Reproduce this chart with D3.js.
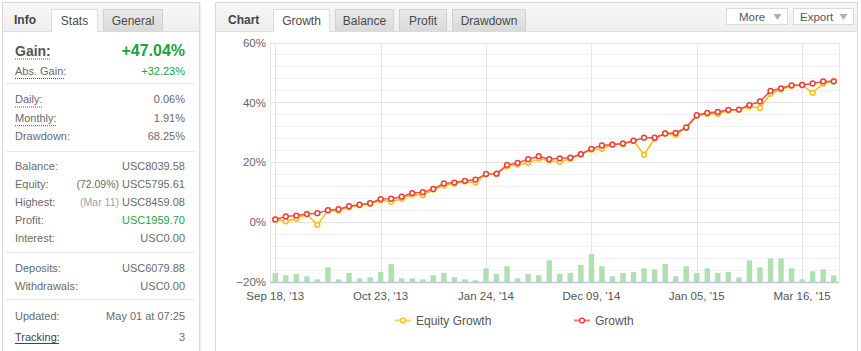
<!DOCTYPE html>
<html>
<head>
<meta charset="utf-8">
<script src="https://cdn.jsdelivr.net/npm/d3@7"></script>
<style>
  body { margin: 0; background: #fff; }
  svg { display: block; font-family: 'Liberation Sans', Arial, sans-serif; }
</style>
</head>
<body>
<svg id="area" width="861" height="351"></svg>
<script>
// values (percent)
const growth = [0.9, 1.9, 2.2, 2.7, 3.0, 4.0, 4.3, 5.3, 5.8, 6.3, 7.7, 7.8, 8.5, 9.7, 10.0, 11.1, 12.9, 13.2,
  13.8, 14.2, 16.1, 16.2, 19.1, 19.8, 21.0, 22.0, 21.0, 21.3, 21.5, 22.7, 24.5, 25.6, 25.9, 26.3, 27.2, 28.2,
  28.2, 29.6, 29.8, 31.6, 35.7, 36.5, 36.8, 37.5, 37.6, 39.1, 40.3, 43.8, 44.7, 45.7, 45.8, 46.3, 47.0, 47.04];
const equityGrowth = [0.9, 0.3, 1.1, 2.7, -0.9, 3.9, 3.8, 5.0, 5.6, 6.1, 7.3, 6.8, 7.8, 9.2, 9.0, 10.9, 12.2, 12.9,
  13.6, 13.2, 16.0, 16.1, 18.6, 19.2, 19.8, 21.2, 20.6, 20.1, 21.2, 22.6, 24.2, 24.5, 25.9, 26.0, 27.1, 22.5,
  27.9, 29.6, 29.2, 31.5, 35.5, 36.2, 36.1, 37.3, 37.5, 38.6, 38.1, 42.9, 44.3, 45.5, 45.8, 43.2, 46.3, 47.04];
// secondary bar series (unlabelled units)
const volume = [9, 6.7, 8, 5.7, 2.7, 14.7, 2.7, 9, 3.7, 4.7, 10, 18, 3.7, 3.7, 2.7, 6.7, 9, 4.7, 2.7, 1.7,
  13.7, 8, 15.7, 3.7, 8, 6.7, 21.7, 8, 9, 17, 28, 15.7, 5.7, 9, 10, 13.7, 12.7, 18, 5.7, 15.7, 9, 13.7,
  9, 10, 4.7, 21.7, 14.7, 23.7, 23.7, 13.7, 2.7, 10.7, 12.7, 6.7];
const tickLabels = ["Sep 18, '13", "Oct 23, '13", "Jan 24, '14", "Dec 09, '14", "Jan 05, '15", "Mar 16, '15"];
const tickEvery = 10;
const yTicks = [-20, 0, 20, 40, 60];

const statRows = [
  { label: 'Daily:', value: '0.06%', dotted: true },
  { label: 'Monthly:', value: '1.91%', dotted: true },
  { label: 'Drawdown:', value: '68.25%' },
];
const accountRows = [
  { label: 'Balance:', value: 'USC8039.58' },
  { label: 'Equity:', value: 'USC5795.61', note: '(72.09%)' },
  { label: 'Highest:', value: 'USC8459.08', note: '(Mar 11)', noteColor: '#a0a0a0' },
  { label: 'Profit:', value: 'USC1959.70', green: true },
  { label: 'Interest:', value: 'USC0.00' },
];
const depositRows = [
  { label: 'Deposits:', value: 'USC6079.88' },
  { label: 'Withdrawals:', value: 'USC0.00' },
];

const svg = d3.select('#area');
const GREEN = '#1ea33c';
const TXT = '#6a6a6a';

const defs = svg.append('defs');
const grad = (id, a, b) => {
  const g = defs.append('linearGradient').attr('id', id).attr('x1', 0).attr('x2', 0).attr('y1', 0).attr('y2', 1);
  g.append('stop').attr('offset', 0).attr('stop-color', a);
  g.append('stop').attr('offset', 1).attr('stop-color', b);
};
grad('hdr', '#f7f7f7', '#efefef');
grad('tab', '#e9e9e9', '#d9d9d9');

// panels
function panel(x, w) {
  svg.append('rect').attr('x', x + 0.5).attr('y', 2.5).attr('width', w).attr('height', 360)
    .attr('fill', '#fff').attr('stroke', '#d9d9d9');
  svg.append('rect').attr('x', x + 1).attr('y', 3).attr('width', w - 1).attr('height', 28.5)
    .attr('fill', 'url(#hdr)');
  svg.append('line').attr('x1', x + 1).attr('x2', x + w).attr('y1', 31.5).attr('y2', 31.5)
    .attr('stroke', '#dcdcdc');
}
function tab(x, w, text, active) {
  const g = svg.append('g');
  g.append('path')
    .attr('d', `M${x + 0.5},${active ? 32 : 31.5}V9.5H${x + w + 0.5}V${active ? 32 : 31.5}`)
    .attr('fill', active ? '#fff' : 'url(#tab)').attr('stroke', active ? '#dcdcdc' : '#d0d0d0');
  if (active) g.append('rect').attr('x', x + 1).attr('y', 30).attr('width', w - 1).attr('height', 3).attr('fill', '#fff');
  g.append('text').attr('x', x + w / 2 + 0.5).attr('y', 25).attr('text-anchor', 'middle')
    .attr('font-size', 12).attr('fill', '#4a4a4a').text(text);
}

panel(2, 197);
svg.append('line').attr('x1', 200.5).attr('x2', 200.5).attr('y1', 3).attr('y2', 351).attr('stroke', '#eeeeee');
svg.append('text').attr('x', 14).attr('y', 24).attr('font-size', 12).attr('font-weight', 'bold')
  .attr('fill', '#444').text('Info');
tab(51, 46, 'Stats', true);
tab(103, 59, 'General', false);

panel(215, 642);
svg.append('text').attr('x', 228).attr('y', 24).attr('font-size', 12).attr('font-weight', 'bold')
  .attr('fill', '#444').text('Chart');
tab(273, 56, 'Growth', true);
tab(335, 58, 'Balance', false);
tab(399, 47, 'Profit', false);
tab(452, 73, 'Drawdown', false);

function button(x, w, text, pad) {
  svg.append('rect').attr('x', x + 0.5).attr('y', 8.5).attr('width', w).attr('height', 16)
    .attr('fill', '#fff').attr('stroke', '#dadada');
  svg.append('text').attr('x', x + pad).attr('y', 21).attr('font-size', 11.5).attr('fill', '#555').text(text);
  svg.append('path').attr('d', `M${x + w - 13.5},14h8l-4,6z`).attr('fill', '#b0b0b0');
}
button(726, 61, 'More', 13);
button(793, 60, 'Export', 7);

// ---- info panel body
const info = svg.append('g').attr('fill', TXT).attr('font-size', 11);
function dots(x1, x2, yy) {
  info.append('line').attr('x1', x1).attr('x2', x2).attr('y1', yy).attr('y2', yy)
    .attr('stroke', '#555').attr('stroke-dasharray', '1,1');
}
function row(r, yy) {
  const lab = info.append('text').attr('x', 15).attr('y', yy + 4).text(r.label);
  const val = info.append('text').attr('x', 185).attr('y', yy + 4).attr('text-anchor', 'end')
    .attr('fill', r.green ? GREEN : TXT).text(r.value);
  if (r.note) {
    const w = val.node().getComputedTextLength() + 3;
    info.append('text').attr('x', 185 - w).attr('y', yy + 4).attr('text-anchor', 'end')
      .attr('fill', r.noteColor || TXT).attr('font-size', 10.5).text(r.note);
  }
  if (r.dotted) dots(15, 15 + lab.node().getComputedTextLength(), yy + 8);
}
info.append('text').attr('x', 15).attr('y', 56).attr('font-size', 14).attr('font-weight', 'bold')
  .attr('fill', '#555').text('Gain:');
dots(15, 50, 59);
info.append('text').attr('x', 185).attr('y', 56).attr('text-anchor', 'end').attr('font-size', 16)
  .attr('font-weight', 'bold').attr('fill', GREEN).text('+47.04%');
info.append('text').attr('x', 15).attr('y', 74.5).text('Abs. Gain:');
dots(15, 65, 78.5);
info.append('text').attr('x', 185).attr('y', 74.5).attr('text-anchor', 'end').attr('fill', GREEN).text('+32.23%');

statRows.forEach((r, i) => row(r, 99 + i * 18.7));
accountRows.forEach((r, i) => row(r, 166 + i * 18.1));
depositRows.forEach((r, i) => row(r, 268 + i * 17.8));
row({ label: 'Updated:', value: 'May 01 at 07:25' }, 316);
info.append('text').attr('x', 15).attr('y', 341).attr('fill', '#444').text('Tracking:');
info.append('line').attr('x1', 15).attr('x2', 59).attr('y1', 343.5).attr('y2', 343.5).attr('stroke', '#444');
info.append('text').attr('x', 185).attr('y', 341).attr('text-anchor', 'end').text('3');
[83.5, 151.5, 252.5, 299.5].forEach((yy) => {
  info.append('line').attr('x1', 6).attr('x2', 195).attr('y1', yy).attr('y2', yy).attr('stroke', '#e6e6e6');
});

// ---- chart
const left = 270;
const right = 839;
const x = d3.scaleBand().domain(d3.range(growth.length)).range([left, right]);
const cx = (i) => x(i) + x.bandwidth() / 2;
const y = d3.scaleLinear().domain([-20, 60]).range([282, 42.5]);
const hBar = d3.scaleLinear().domain([0, 40]).range([y(-20), y(-20) - 40]);

const plot = svg.append('g');
// minor grid
d3.range(-20, 61, 4).filter((v) => v % 20 !== 0).forEach((v) => {
  plot.append('line').attr('x1', left).attr('x2', right).attr('y1', Math.round(y(v)) + 0.5)
    .attr('y2', Math.round(y(v)) + 0.5).attr('stroke', '#f3f3f3');
});
yTicks.slice(1).forEach((v) => {
  plot.append('line').attr('x1', left).attr('x2', right).attr('y1', Math.round(y(v)) + 0.5)
    .attr('y2', Math.round(y(v)) + 0.5).attr('stroke', '#e3e3e3');
});
const tickIdx = tickLabels.map((d, i) => i * tickEvery);
[left, right].concat(tickIdx.map(cx)).forEach((xx) => {
  plot.append('line').attr('x1', Math.round(xx) + 0.5).attr('x2', Math.round(xx) + 0.5)
    .attr('y1', y(60)).attr('y2', y(-20)).attr('stroke', '#e6e6e6');
});

// bars
plot.selectAll('rect.bar').data(volume).join('rect').attr('class', 'bar')
  .attr('x', (d, i) => x(i) + x.bandwidth() * 0.24)
  .attr('width', x.bandwidth() * 0.52)
  .attr('y', (d) => hBar(d))
  .attr('height', (d) => y(-20) - hBar(d))
  .attr('fill', '#b2dfb2');

// x axis line
plot.append('line').attr('x1', left).attr('x2', right).attr('y1', 282.5).attr('y2', 282.5)
  .attr('stroke', '#b9c8dc').attr('stroke-width', 1.5);

const yAxis = d3.axisLeft(y).tickValues(yTicks).tickSize(0).tickPadding(4)
  .tickFormat((d) => `${d < 0 ? '\u2212' : ''}${Math.abs(d)}%`);
svg.append('g').attr('transform', `translate(${left},0)`).call(yAxis)
  .call((g) => g.select('.domain').remove())
  .selectAll('text').attr('font-family', 'Liberation Sans, Arial, sans-serif')
  .attr('font-size', 11.5).attr('fill', '#666');

const xAxis = d3.axisBottom(x).tickValues(tickIdx).tickSize(0).tickPadding(10)
  .tickFormat((d) => tickLabels[d / tickEvery]);
svg.append('g').attr('transform', 'translate(0,282)').call(xAxis)
  .call((g) => g.select('.domain').remove())
  .selectAll('text').attr('font-family', 'Liberation Sans, Arial, sans-serif')
  .attr('font-size', 11.5).attr('fill', '#555');

// lines
const EQ = '#fbbd12';
const GR = '#ee3d3d';
function series(data, color, opacity) {
  const line = d3.line().x((d, i) => cx(i)).y((d) => y(d));
  const g = svg.append('g');
  g.append('path').datum(data).attr('d', line).attr('fill', 'none')
    .attr('stroke', color).attr('stroke-width', 1.5).attr('stroke-opacity', opacity);
  g.selectAll('circle').data(data).join('circle')
    .attr('cx', (d, i) => cx(i)).attr('cy', (d) => y(d)).attr('r', 2.4)
    .attr('fill', '#fff').attr('stroke', color).attr('stroke-width', 1.5);
}
series(equityGrowth, EQ, 1);
series(growth, GR, 0.9);

// legend
function legendItem(x0, color, text) {
  const g = svg.append('g');
  g.append('line').attr('x1', x0).attr('x2', x0 + 16).attr('y1', 320.5).attr('y2', 320.5)
    .attr('stroke', color).attr('stroke-width', 2).attr('stroke-opacity', 0.7);
  g.append('circle').attr('cx', x0 + 8).attr('cy', 320.5).attr('r', 2.4)
    .attr('fill', '#fff').attr('stroke', color).attr('stroke-width', 1.4);
  g.append('text').attr('x', x0 + 21).attr('y', 325).attr('font-size', 12).attr('fill', '#555').text(text);
}
legendItem(395, EQ, 'Equity Growth');
legendItem(574, GR, 'Growth');
</script>
</body>
</html>
